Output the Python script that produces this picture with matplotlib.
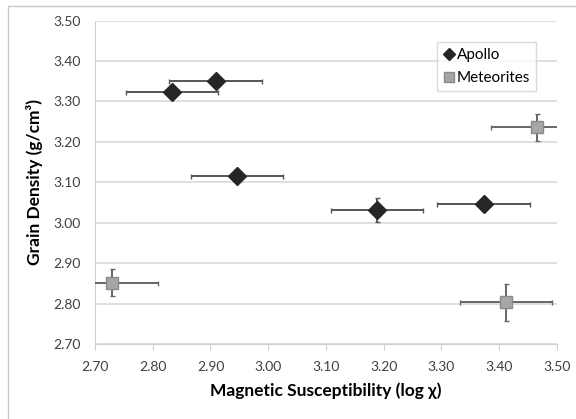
import numpy as np
import matplotlib
matplotlib.use("Agg")
import matplotlib.pyplot as plt
from matplotlib.patches import Rectangle
from matplotlib.lines import Line2D

plt.rcParams['font.family'] = ['Lato', 'DejaVu Sans']

# Apollo samples
apollo_x = [2.833, 2.909, 2.946, 3.188, 3.373]
apollo_y = [3.324, 3.351, 3.115, 3.031, 3.047]
apollo_xerr = [0.08, 0.08, 0.08, 0.08, 0.08]
apollo_yerr = [0.01, 0.01, 0.01, 0.03, 0.01]

# Meteorites
met_x = [2.729, 3.412, 3.465]
met_y = [2.852, 2.803, 3.236]
met_xerr = [0.08, 0.08, 0.08]
met_yerr = [0.034, 0.046, 0.033]

xticks = [2.70, 2.80, 2.90, 3.00, 3.10, 3.20, 3.30, 3.40, 3.50]
yticks = [2.70, 2.80, 2.90, 3.00, 3.10, 3.20, 3.30, 3.40, 3.50]

fig = plt.figure(figsize=(5.76, 4.19), dpi=100)
ax = fig.add_axes([95 / 576, 1 - 344 / 419, 462 / 576, 323.5 / 419])

# light outer frame
fig.patches.append(Rectangle((8 / 576, -0.05), 1.0, 1 - 6 / 419 + 0.05,
                             transform=fig.transFigure, fill=False,
                             edgecolor="#c8c8c8", linewidth=1.0))

ax.errorbar(apollo_x, apollo_y, xerr=apollo_xerr, yerr=apollo_yerr,
            fmt="D", color="#262626", ecolor="#555555", elinewidth=1.4,
            capsize=1.8, capthick=1.0, markersize=9, zorder=3)
ax.errorbar(met_x, met_y, xerr=met_xerr, yerr=met_yerr,
            fmt="s", markerfacecolor="#a6a6a6", markeredgecolor="#8a8a8a",
            ecolor="#666666", elinewidth=1.4, capsize=1.8, capthick=1.0,
            markersize=9, zorder=3)

ax.set_xlim(2.70, 3.50)
ax.set_ylim(2.70, 3.50)
ax.set_xticks(xticks)
ax.set_yticks(yticks)
ax.set_xticklabels(["%.2f" % v for v in xticks])
ax.set_yticklabels(["%.2f" % v for v in yticks])
ax.tick_params(axis="x", direction="out", length=4, color="#d0d0d0",
               labelsize=10, labelcolor="#404040", pad=8)
ax.tick_params(axis="y", length=0, labelsize=10, labelcolor="#404040", pad=10)

ax.grid(axis="y", color="#d9d9d9", linewidth=1.2)
ax.set_axisbelow(True)
for s in ["top", "right"]:
    ax.spines[s].set_visible(False)
ax.spines["left"].set_color("#d0d0d0")
ax.spines["bottom"].set_color("#d0d0d0")

ax.set_xlabel("Magnetic Susceptibility (log χ)", fontsize=12.5, fontweight="bold",
              labelpad=7)
ax.set_ylabel("Grain Density (g/cm³)", fontsize=12.5, fontweight="bold",
              labelpad=8)

# legend shows markers only
handles = [
    Line2D([], [], linestyle="none", marker="D", markersize=6, color="#262626"),
    Line2D([], [], linestyle="none", marker="s", markersize=7,
           markerfacecolor="#a6a6a6", markeredgecolor="#8a8a8a"),
]
leg = ax.legend(handles, ["Apollo", "Meteorites"], loc="upper left",
                bbox_to_anchor=((437 - 95) / 462, 1 - (42 - 20.5) / 323.5),
                frameon=True, fancybox=False, fontsize=11, handletextpad=0.1,
                handlelength=0.8, borderpad=0.4, labelspacing=0.6,
                borderaxespad=0)
leg.get_frame().set_edgecolor("#d0d0d0")
leg.get_frame().set_linewidth(1.0)

fig.savefig("out.png", dpi=100)
